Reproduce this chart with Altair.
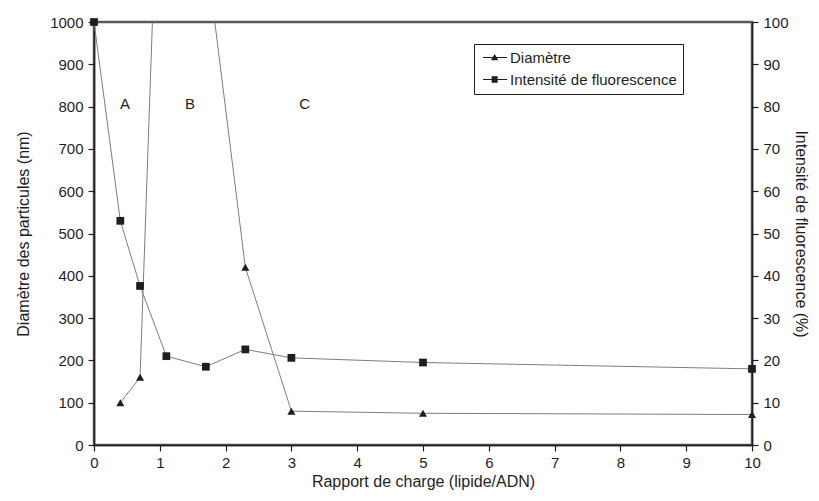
import altair as alt
import pandas as pd

# ---- data ----
ratio_diam = [0.4, 0.7, 1.1, 1.7, 2.3, 3, 5, 10]
diam_nm = [100, 160, 1950, 1170, 420, 80, 75, 72]
ratio_fluo = [0, 0.4, 0.7, 1.1, 1.7, 2.3, 3, 5, 10]
fluo_pct = [100, 53, 37.6, 21, 18.5, 22.6, 20.6, 19.5, 18]
zone_labels = ["A", "B", "C"]
zone_x = [0.47, 1.46, 3.2]
zone_y = [806, 806, 806]
series_names = ["Diamètre", "Intensité de fluorescence"]
x_ticks = list(range(0, 11))
left_ticks = list(range(0, 1001, 100))
right_ticks = list(range(0, 101, 10))

diam_df = pd.DataFrame({"x": ratio_diam, "v": diam_nm, "serie": series_names[0]})
fluo_df = pd.DataFrame({"x": ratio_fluo, "v": fluo_pct, "serie": series_names[1]})
zone_df = pd.DataFrame({"x": zone_x, "v": zone_y, "t": zone_labels})
all_df = pd.concat([diam_df, fluo_df], ignore_index=True)

FONT = "Liberation Sans"
LINE = "#7d7d7d"
INK = "#1e1e1e"

# legend symbols: a short thin bar with the marker on it (all filled sub-paths)
tri_path = "M-0.6,-0.07H2.6V0.07H-0.6ZM0.95,-0.48L1.45,0.38L0.45,0.38Z"
sq_path = "M-0.6,-0.07H2.6V0.07H-0.6ZM0.55,-0.42H1.35V0.42H0.55Z"

x_enc = alt.X(
    "x:Q",
    scale=alt.Scale(domain=[0, 10], nice=False),
    axis=alt.Axis(values=x_ticks, format="d", title="Rapport de charge (lipide/ADN)",
                  labelPadding=4, titlePadding=3, labelFlush=False),
)
y_left = alt.Y(
    "v:Q",
    scale=alt.Scale(domain=[0, 1000], nice=False),
    axis=alt.Axis(orient="left", values=left_ticks, format="d", labelFlush=False,
                  title="Diamètre des particules (nm)", labelPadding=5, titlePadding=18),
)
y_right = alt.Y(
    "v:Q",
    scale=alt.Scale(domain=[0, 100], nice=False),
    axis=alt.Axis(orient="right", values=right_ticks, format="d", labelFlush=False,
                  title="Intensité de fluorescence (%)", labelPadding=5, titlePadding=4),
)

diam_line = alt.Chart(diam_df).mark_line(color=LINE, strokeWidth=1, clip=True).encode(x=x_enc, y=y_left)
diam_pts = (
    alt.Chart(diam_df)
    .transform_filter("datum.v <= 1000")
    .mark_point(shape="triangle-up", filled=True, color=INK, size=65, opacity=1)
    .encode(x=x_enc, y=y_left)
)
zones = alt.Chart(zone_df).mark_text(font=FONT, fontSize=15, color=INK).encode(x=x_enc, y=y_left, text="t:N")

legend_layer = (
    alt.Chart(all_df)
    .transform_filter("false")
    .mark_point(filled=True, color=INK)
    .encode(
        x=x_enc,
        y=y_left,
        shape=alt.Shape(
            "serie:N",
            scale=alt.Scale(domain=series_names, range=[tri_path, sq_path]),
            legend=alt.Legend(
                orient="none", legendX=380, legendY=22, title=None,
                labelFont=FONT, labelFontSize=15, labelColor=INK, labelOffset=15,
                labelLimit=400,
                strokeColor=INK, fillColor="white", padding=6, rowPadding=6,
                symbolSize=225, symbolFillColor="#2a2a2a", symbolStrokeWidth=0,
                symbolOpacity=1,
            ),
        ),
    )
)

fluo_line = alt.Chart(fluo_df).mark_line(color=LINE, strokeWidth=1).encode(x=x_enc, y=y_right)
fluo_pts = (
    alt.Chart(fluo_df)
    .mark_point(shape="square", filled=True, color=INK, size=60, opacity=1)
    .encode(x=x_enc, y=y_right)
)

left = alt.layer(diam_line, diam_pts, zones, legend_layer)
right = alt.layer(fluo_line, fluo_pts)

chart = (
    alt.layer(left, right)
    .resolve_scale(y="independent", shape="independent")
    .properties(
        width=658, height=423,
        autosize=alt.AutoSizeParams(type="none"),
        padding={"left": 86, "top": 14, "right": 59, "bottom": 48},
    )
    .configure_view(stroke="#5a5a5a", strokeWidth=2.5)
    .configure_axis(
        labelFont=FONT, titleFont=FONT, labelFontSize=15, titleFontSize=16,
        labelColor=INK, titleColor=INK, titleFontWeight="normal",
        domainColor=INK, domainWidth=1.5, tickColor=INK, tickWidth=1.2, tickSize=6,
        grid=False,
    )
)

chart.save("out.html", embed_options={"renderer": "svg", "actions": False})
